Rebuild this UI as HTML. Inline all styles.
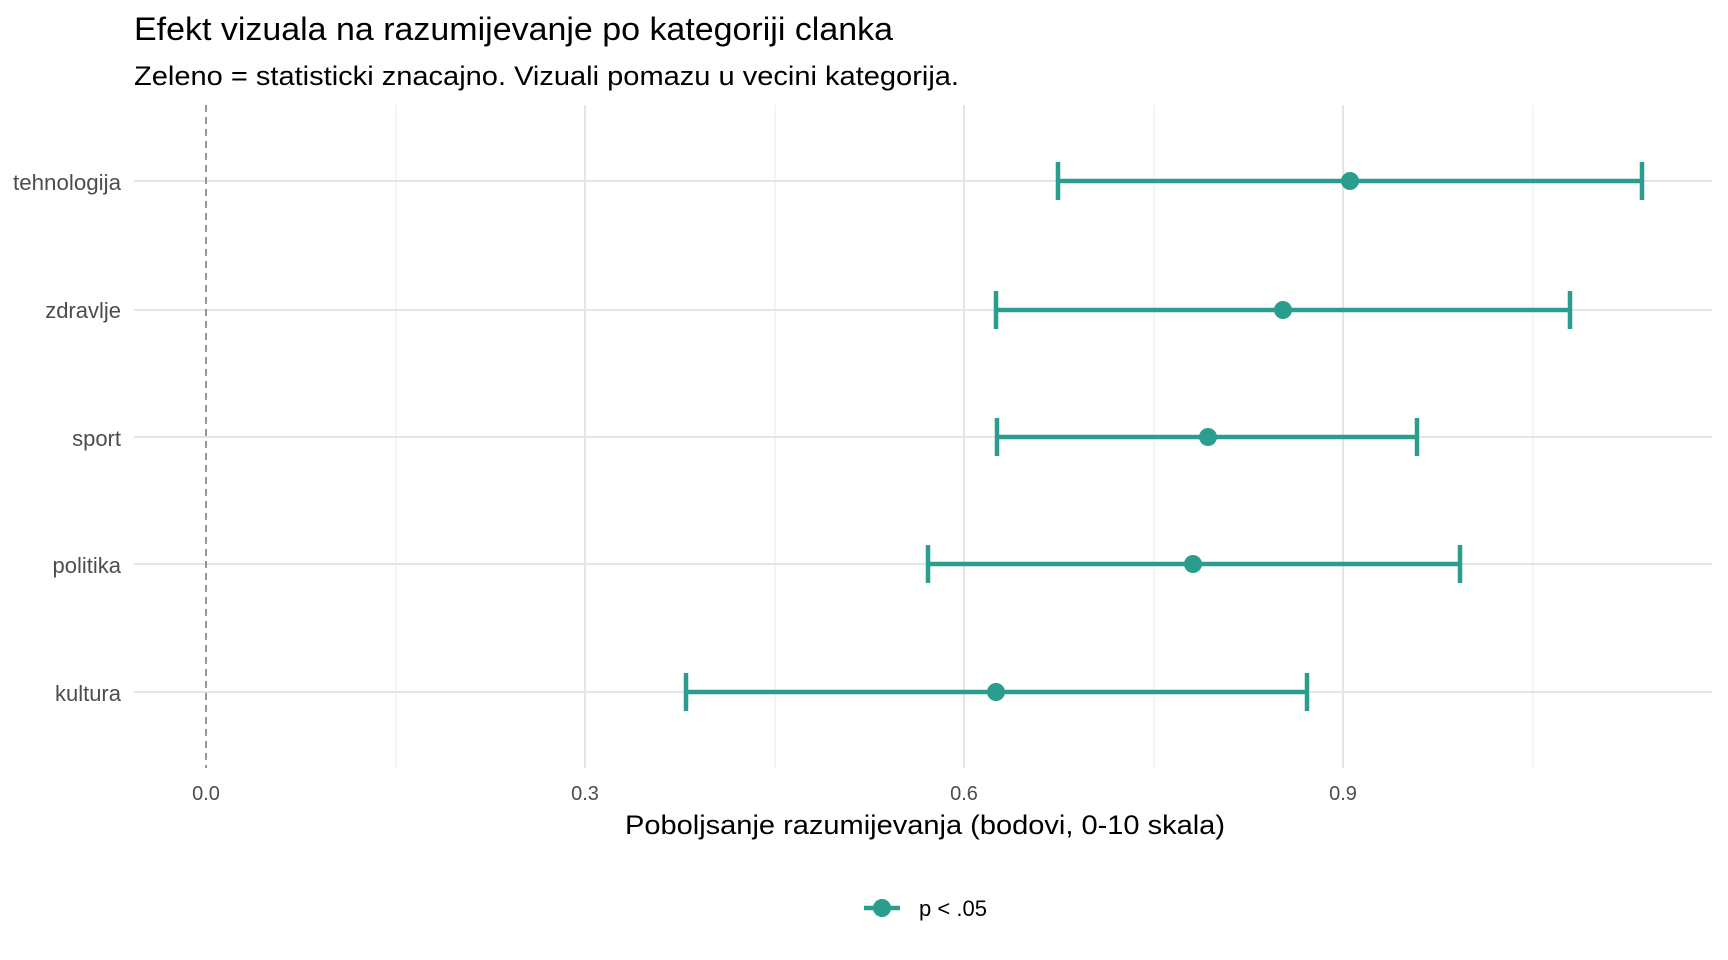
<!DOCTYPE html>
<html><head><meta charset="utf-8"><style>body{margin:0;background:#fff}svg{display:block}</style></head><body>
<svg width="1728" height="960" xmlns="http://www.w3.org/2000/svg" font-family="Liberation Sans, sans-serif">
<text x="134" y="40" font-size="32" fill="#000" textLength="759" lengthAdjust="spacingAndGlyphs">Efekt vizuala na razumijevanje po kategoriji clanka</text>
<text x="134" y="85" font-size="27" fill="#000" textLength="825" lengthAdjust="spacingAndGlyphs">Zeleno = statisticki znacajno. Vizuali pomazu u vecini kategorija.</text>
<g stroke="#ebebeb" stroke-width="1">
<line x1="396" y1="105" x2="396" y2="768"/><line x1="775" y1="105" x2="775" y2="768"/><line x1="1154" y1="105" x2="1154" y2="768"/><line x1="1533" y1="105" x2="1533" y2="768"/>
</g>
<g stroke="#e5e5e5" stroke-width="2">
<line x1="585" y1="105" x2="585" y2="768"/><line x1="964" y1="105" x2="964" y2="768"/><line x1="1343" y1="105" x2="1343" y2="768"/>
<line x1="134" y1="181" x2="1712" y2="181"/><line x1="134" y1="310" x2="1712" y2="310"/><line x1="134" y1="437" x2="1712" y2="437"/><line x1="134" y1="564" x2="1712" y2="564"/><line x1="134" y1="692" x2="1712" y2="692"/>
</g>
<line x1="206" y1="105" x2="206" y2="768" stroke="#777" stroke-width="1.5" stroke-dasharray="7,5"/>
<g stroke="#2a9d8f" stroke-width="4.5" fill="#2a9d8f">
<line x1="1058" y1="181" x2="1642" y2="181"/><line x1="1058" y1="162" x2="1058" y2="200"/><line x1="1642" y1="162" x2="1642" y2="200"/>
<line x1="996" y1="310" x2="1570" y2="310"/><line x1="996" y1="291" x2="996" y2="329"/><line x1="1570" y1="291" x2="1570" y2="329"/>
<line x1="997" y1="437" x2="1417" y2="437"/><line x1="997" y1="418" x2="997" y2="456"/><line x1="1417" y1="418" x2="1417" y2="456"/>
<line x1="928" y1="564" x2="1460" y2="564"/><line x1="928" y1="545" x2="928" y2="583"/><line x1="1460" y1="545" x2="1460" y2="583"/>
<line x1="686" y1="692" x2="1307" y2="692"/><line x1="686" y1="673" x2="686" y2="711"/><line x1="1307" y1="673" x2="1307" y2="711"/>
<line x1="864" y1="908" x2="900" y2="908"/>
</g>
<g fill="#2a9d8f">
<circle cx="1350" cy="181" r="9"/><circle cx="1283" cy="310" r="9"/><circle cx="1208" cy="437" r="9"/><circle cx="1193" cy="564" r="9"/><circle cx="996" cy="692" r="9"/><circle cx="882" cy="908" r="9"/>
</g>
<g font-size="22" fill="#4d4d4d" text-anchor="end">
<text x="121" y="190" textLength="108" lengthAdjust="spacingAndGlyphs">tehnologija</text><text x="121" y="318">zdravlje</text><text x="121" y="446">sport</text><text x="121" y="573">politika</text><text x="121" y="701">kultura</text>
</g>
<g font-size="20" fill="#4d4d4d" text-anchor="middle">
<text x="206" y="800">0.0</text><text x="585" y="800">0.3</text><text x="964" y="800">0.6</text><text x="1343" y="800">0.9</text>
</g>
<text x="625" y="834" font-size="27" fill="#000" textLength="600" lengthAdjust="spacingAndGlyphs">Poboljsanje razumijevanja (bodovi, 0-10 skala)</text>
<text x="919" y="916" font-size="22" fill="#000" textLength="68" lengthAdjust="spacingAndGlyphs">p &lt; .05</text>
</svg>
</body></html>
